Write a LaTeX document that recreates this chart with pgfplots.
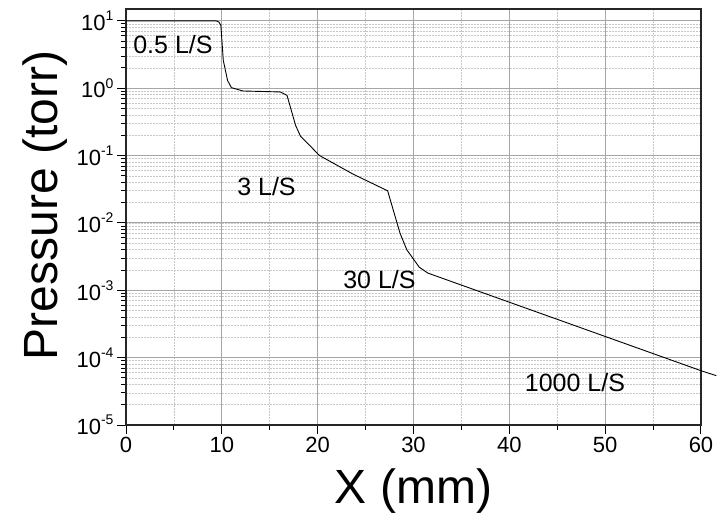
\documentclass[border=0pt]{standalone}
\usepackage{fontspec}
\setmainfont{Liberation Sans}
\usepackage{pgfplots}
\pgfplotsset{compat=1.18}

\begin{document}
\begin{tikzpicture}
\useasboundingbox (0,0) rectangle (719bp,513bp);
\begin{axis}[
    at={(126bp,88bp)}, anchor=south west,
    scale only axis, width=575bp, height=416bp,
    ymode=log,
    xmin=0, xmax=60, ymin=1e-5, ymax=15,
    xtick={0,10,...,60}, minor x tick num=1,
    ytick={1e-5,1e-4,1e-3,1e-2,1e-1,1,10},
    xtick pos=bottom, ytick pos=left,
    tick align=outside,
    major tick length=9bp, minor tick length=5bp,
    every tick/.style={black, line width=1bp},
    axis line style={line width=1.5bp, color=black!85},
    grid=both,
    major grid style={solid, line width=1bp, color=black!35},
    minor grid style={dash pattern=on 2bp off 1bp, line width=0.7bp, color=black!22},
    /pgf/number format/assume math mode=true,
    ticklabel style={font=\fontsize{22bp}{24bp}\selectfont},
    yticklabel={10\raisebox{0.45em}{\fontsize{14bp}{14bp}\selectfont\pgfmathparse{int(round(\tick/2.302585))}\pgfmathresult}},
    xlabel={X (mm)}, ylabel={Pressure (torr)},
    label style={font=\fontsize{48bp}{50bp}\selectfont},
    xlabel style={at={(axis description cs:0.5,-0.1875)}, anchor=base},
    ylabel style={at={(axis description cs:-0.12,0.528)}, anchor=base, rotate=0},
    clip=false,
]
\addplot[black, line width=0.9bp] coordinates {
(0,10) (9.4,10) (9.7,9.6) (9.9,8.6) (10.15,2.6) (10.6,1.3) (11.0,1.02) (12.2,0.91)
(16.1,0.88) (16.8,0.785) (17.7,0.28) (18.2,0.195) (20.2,0.1) (23.7,0.053)
(27.3,0.030) (28.6,0.007) (29.3,0.004) (30.6,0.0022) (31.5,0.0018)
(60,6.4e-5) (61.6,5.4e-5)
};
\node[anchor=base, font=\fontsize{25bp}{27bp}\selectfont] at (axis cs:4.9,3.3) {0.5 L/S};
\node[anchor=base, font=\fontsize{25bp}{27bp}\selectfont] at (axis cs:14.66,0.0258) {3 L/S};
\node[anchor=base, font=\fontsize{25bp}{27bp}\selectfont] at (axis cs:26.45,1.08e-3) {30 L/S};
\node[anchor=base, font=\fontsize{25bp}{27bp}\selectfont] at (axis cs:46.85,3.19e-5) {1000 L/S};
\end{axis}
\end{tikzpicture}
\end{document}
